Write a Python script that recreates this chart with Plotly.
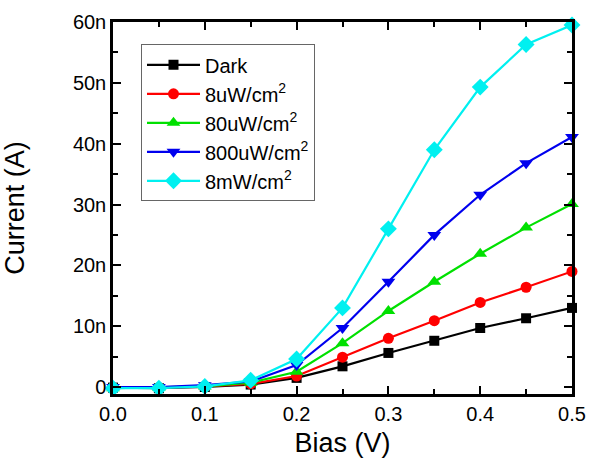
import plotly.graph_objects as go

bias = [0.0, 0.05, 0.1, 0.15, 0.2, 0.25, 0.3, 0.35, 0.4, 0.45, 0.5]
dark = [-0.1, -0.2, 0.0, 0.4, 1.5, 3.4, 5.6, 7.6, 9.7, 11.3, 13.0]
uw8 = [-0.1, -0.1, 0.1, 0.5, 1.8, 4.9, 8.0, 10.9, 13.9, 16.4, 19.0]
uw80 = [-0.2, -0.1, 0.1, 0.7, 2.5, 7.2, 12.5, 17.3, 21.9, 26.2, 30.1]
uw800 = [0.0, 0.0, 0.3, 0.9, 3.6, 9.7, 17.3, 25.0, 31.6, 36.8, 41.1]
mw8 = [-0.2, -0.2, 0.1, 1.1, 4.6, 13.0, 26.0, 39.0, 49.3, 56.3, 59.5]

names = ["Dark", "8uW/cm<sup>2</sup>", "80uW/cm<sup>2</sup>", "800uW/cm<sup>2</sup>", "8mW/cm<sup>2</sup>"]
series = [dark, uw8, uw80, uw800, mw8]
colors = ["#000000", "#ff0000", "#00e000", "#0000ee", "#00f0f0"]
symbols = ["square", "circle", "triangle-up", "triangle-down", "diamond"]
sizes = [10, 11, 12, 12, 13]

ytickvals = [0, 10, 20, 30, 40, 50, 60]
yticktext = ["0", "10n", "20n", "30n", "40n", "50n", "60n"]
xtickvals = [0.0, 0.1, 0.2, 0.3, 0.4, 0.5]
xticktext = ["0.0", "0.1", "0.2", "0.3", "0.4", "0.5"]

FONT = "Liberation Sans, Arial, sans-serif"

fig = go.Figure()
for name, ys, c, s, sz in zip(names, series, colors, symbols, sizes):
    fig.add_trace(go.Scatter(
        x=bias, y=[v * 1e-9 for v in ys], name=name, mode="lines+markers",
        line=dict(color=c, width=2.2),
        marker=dict(symbol=s, size=sz, color=c, line=dict(width=0)),
        cliponaxis=False,
    ))

axis_common = dict(
    showline=True, linecolor="black", linewidth=2.5, mirror="allticks",
    ticks="inside", ticklen=8, tickwidth=2, tickcolor="black",
    showgrid=False, zeroline=False, automargin=False,
    ticklabeloverflow="allow",
    tickfont=dict(family=FONT, size=20, color="black"),
)

fig.update_layout(
    width=591, height=472,
    margin=dict(l=113, r=19, t=22, b=78),
    paper_bgcolor="white", plot_bgcolor="white",
    font=dict(family=FONT, color="black"),
    xaxis=dict(
        range=[0, 0.5], tickvals=xtickvals, ticktext=xticktext,
        minor=dict(ticks="inside", ticklen=5, tickwidth=2, tickcolor="black", dtick=0.05, tick0=0),
        title=dict(text="Bias (V)", font=dict(family=FONT, size=27), standoff=10),
        **axis_common,
    ),
    yaxis=dict(
        range=[-1.15e-9, 60e-9], tickvals=[v * 1e-9 for v in ytickvals], ticktext=yticktext,
        minor=dict(ticks="inside", ticklen=5, tickwidth=2, tickcolor="black", dtick=5e-9, tick0=0),
        title=dict(text="Current (A)", font=dict(family=FONT, size=27), standoff=41),
        **axis_common,
    ),
    legend=dict(
        x=0.061, y=0.94, xanchor="left", yanchor="top",
        bgcolor="white", bordercolor="#666666", borderwidth=1,
        font=dict(family=FONT, size=20, color="black"),
        tracegroupgap=0, itemwidth=53,
    ),
    showlegend=True,
)

fig.write_html("out.html", config={"displayModeBar": False},
               post_script="document.body.style.margin='0';")
